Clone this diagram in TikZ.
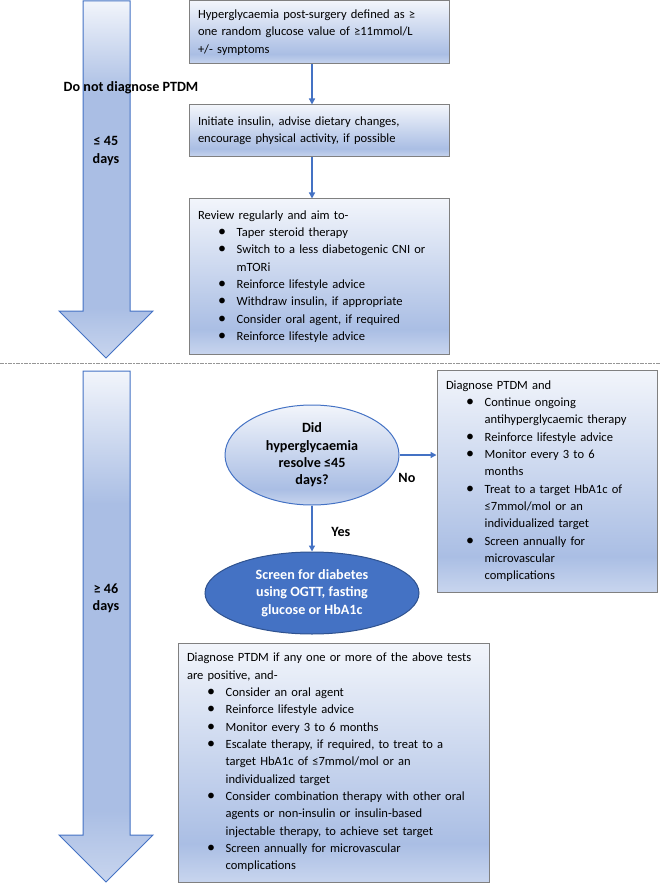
\documentclass[tikz,border=0pt]{standalone}
\usepackage{fontspec}
\setmainfont{Carlito}
\usepackage{tikz}
\usetikzlibrary{shapes.geometric,arrows.meta}
\definecolor{fadetop}{RGB}{242,245,251}
\definecolor{fademid}{RGB}{170,190,228}
\definecolor{fadelow}{RGB}{200,213,238}
\definecolor{boxgray}{RGB}{128,128,128}
\definecolor{accent}{RGB}{68,114,196}
\definecolor{accentdark}{RGB}{47,82,143}
\definecolor{cutline}{RGB}{150,150,150}
\pgfdeclareverticalshading{boxfade}{100bp}{color(0bp)=(fadelow); color(25bp)=(fadelow); color(33bp)=(fademid); color(75bp)=(fadetop); color(100bp)=(fadetop)}
\pgfdeclareverticalshading{arrfade}{100bp}{color(0bp)=(fadelow); color(25bp)=(fadelow); color(32bp)=(fademid); color(62bp)=(fademid); color(75bp)=(fadetop); color(100bp)=(fadetop)}
\newcommand{\txt}{\fontsize{9.4}{13}\selectfont}
\newcommand{\btxt}{\fontsize{10.6}{13}\selectfont\bfseries}
\newlength\bpos \setlength\bpos{15pt}
\newlength\bind \setlength\bind{29pt}
\newcommand{\bitem}[1]{\par\hangindent=\bind\hangafter=1\noindent\hbox to\bind{\hskip\bpos{\large\textbullet}\hfil}#1\par}
\tikzset{
  >={Triangle[width=4.5pt,length=4.5pt]},
  bx/.style={rectangle, draw=boxgray, line width=0.75pt, shading=boxfade, text width=#1, inner xsep=6.75pt, align=left, font=\txt},
  dc/.style={ellipse, draw=accent, line width=0.75pt, shading=boxfade, inner sep=0pt, align=center, font=\btxt},
  sc/.style={ellipse, draw=accentdark, line width=0.75pt, fill=accent, text=white, inner sep=0pt, align=center, font=\btxt},
  ar/.style={draw=accent, line width=0.75pt, shading=arrfade},
  cn/.style={->, draw=accent, line width=1pt},
  tl/.style={font=\btxt, inner sep=1pt},
  cut/.style={draw=cutline, line width=0.6pt, dash pattern=on 3pt off 1pt on 1pt off 1pt}
}
\begin{document}
\begin{tikzpicture}[x=0.75pt,y=-0.75pt]
\useasboundingbox (0,0) rectangle (661,884);
% time line
\draw[ar] (83,1) -- (130,1) -- (130,311) -- (153,311) -- (106,358) -- (59,311) -- (83,311) -- cycle;
\draw[ar] (83,371) -- (130,371) -- (130,835) -- (153,835) -- (106,882) -- (59,835) -- (83,835) -- cycle;
\draw[cut] (0,363) -- (661,363);
\node[tl] (early) at (131,88) {Do not diagnose PTDM};
\node[tl, align=center] (le45) at (106,151) {≤ 45\\days};
\node[tl, align=center] (ge46) at (106,598) {≥ 46\\days};
% first 45 days
\node[bx=181.5pt, minimum height=47.25pt] (hyper) at (319,32.5)
  {Hyperglycaemia post-surgery defined as ≥\newline one random glucose value of ≥11mmol/L\newline +/- symptoms\par};
\node[bx=181.5pt, minimum height=39pt] (insulin) at (319,131)
  {Initiate insulin, advise dietary changes,\newline encourage physical activity, if possible\par};
\node[bx=181.5pt, minimum height=116.25pt] (review) at (319,276.5)
  {Review regularly and aim to-
   \bitem{Taper steroid therapy}
   \bitem{Switch to a less diabetogenic CNI or\newline mTORi}
   \bitem{Reinforce lifestyle advice}
   \bitem{Withdraw insulin, if appropriate}
   \bitem{Consider oral agent, if required}
   \bitem{Reinforce lifestyle advice}};
% after 45 days
\node[dc, minimum width=130.5pt, minimum height=75pt] (resolve) at (312,455)
  {Did\\hyperglycaemia\\resolve ≤45\\days?};
\node[bx=151.5pt, minimum height=166.5pt] (ongoing) at (547,481)
  {Diagnose PTDM and
   \bitem{Continue ongoing\newline antihyperglycaemic therapy}
   \bitem{Reinforce lifestyle advice}
   \bitem{Monitor every 3 to 6\newline months}
   \bitem{Treat to a target HbA1c of\newline ≤7mmol/mol or an\newline individualized target}
   \bitem{Screen annually for\newline microvascular\newline complications}};
\node[sc, minimum width=160.5pt, minimum height=61.5pt] (screen) at (312,593)
  {Screen for diabetes\\using OGTT, fasting\\glucose or HbA1c};
\node[bx=219.75pt, minimum height=179.25pt] (positive) at (333.5,762.5)
  {Diagnose PTDM if any one or more of the above tests\newline are positive, and-
   \bitem{Consider an oral agent}
   \bitem{Reinforce lifestyle advice}
   \bitem{Monitor every 3 to 6 months}
   \bitem{Escalate therapy, if required, to treat to a\newline target HbA1c of ≤7mmol/mol or an\newline individualized target}
   \bitem{Consider combination therapy with other oral\newline agents or non-insulin or insulin-based\newline injectable therapy, to achieve set target}
   \bitem{Screen annually for microvascular\newline complications}};
% connectors
\draw[cn] (hyper.south -| resolve.center) -- (insulin.north -| resolve.center);
\draw[cn] (insulin.south -| resolve.center) -- (review.north -| resolve.center);
\draw[cn] (resolve.east) -- (resolve.east -| ongoing.west) node[tl, pos=0.2, below=12pt] (no) {No};
\draw[cn] (resolve.south) -- (screen.north) node[tl, pos=0.57, right=13pt] (yes) {Yes};
\end{tikzpicture}
\end{document}
